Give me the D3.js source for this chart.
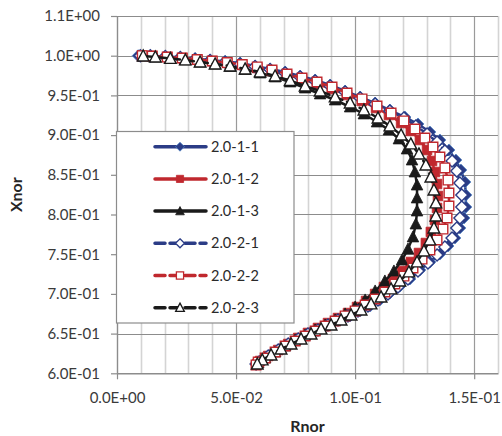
<!DOCTYPE html>
<html>
<head>
<meta charset="utf-8">
<script src="https://cdn.jsdelivr.net/npm/d3@7"></script>
<style>
html,body{margin:0;padding:0;background:#fff;}
svg{display:block;font-family:Lato,"Open Sans",sans-serif;}
</style>
</head>
<body>
<script>
// ---------------- DATA ----------------
const seriesNames = ["2.0-1-1","2.0-1-2","2.0-1-3","2.0-2-1","2.0-2-2","2.0-2-3"];

const xTickValues = [0, 0.05, 0.10, 0.15];
const xTickLabels = ["0.0E+00","5.0E-02","1.0E-01","1.5E-01"];
const yTickValues = [0.60,0.65,0.70,0.75,0.80,0.85,0.90,0.95,1.00,1.05];
const yTickLabels = ["6.0E-01","6.5E-01","7.0E-01","7.5E-01","8.0E-01","8.5E-01","9.0E-01","9.5E-01","1.0E+00","1.1E+00"];

// 2.0-1-1
const rnor_1_1 = [0.0089,0.0140,0.0203,0.0266,0.0328,0.0391,0.0454,0.0517,0.0580,0.0643,0.0706,0.0769,0.0832,0.0895,0.0958,0.1021,0.1084,0.1146,0.1209,0.1264,0.1314,0.1356,0.1394,0.1423,0.1444,0.1461,0.1465,0.1465,0.1457,0.1440,0.1419,0.1390,0.1356,0.1314,0.1272,0.1230,0.1188,0.1146,0.1104,0.1063,0.1021,0.0979,0.0937,0.0895,0.0853,0.0811,0.0769,0.0727,0.0685,0.0643,0.0601,0.0584];
const xnor_1_1 = [1.0000,1.0000,0.9990,0.9977,0.9958,0.9946,0.9927,0.9908,0.9870,0.9832,0.9795,0.9744,0.9694,0.9631,0.9555,0.9480,0.9404,0.9316,0.9228,0.9140,0.9039,0.8938,0.8812,0.8686,0.8560,0.8409,0.8246,0.8094,0.7956,0.7830,0.7704,0.7603,0.7502,0.7402,0.7301,0.7188,0.7099,0.7011,0.6923,0.6848,0.6785,0.6722,0.6671,0.6621,0.6558,0.6508,0.6432,0.6369,0.6306,0.6230,0.6155,0.6117];

// 2.0-1-2
const rnor_1_2 = [0.0106,0.0148,0.0211,0.0274,0.0337,0.0400,0.0463,0.0526,0.0589,0.0651,0.0714,0.0777,0.0840,0.0903,0.0966,0.1029,0.1088,0.1142,0.1193,0.1234,0.1272,0.1302,0.1323,0.1335,0.1344,0.1348,0.1344,0.1335,0.1318,0.1297,0.1268,0.1234,0.1197,0.1159,0.1121,0.1084,0.1046,0.1008,0.0970,0.0928,0.0886,0.0844,0.0802,0.0761,0.0719,0.0677,0.0635,0.0601,0.0589];
const xnor_1_2 = [1.0000,0.9996,0.9983,0.9971,0.9952,0.9933,0.9908,0.9883,0.9845,0.9807,0.9757,0.9706,0.9643,0.9580,0.9505,0.9429,0.9341,0.9253,0.9152,0.9052,0.8938,0.8812,0.8674,0.8535,0.8384,0.8233,0.8082,0.7931,0.7780,0.7641,0.7515,0.7402,0.7288,0.7188,0.7087,0.6999,0.6911,0.6835,0.6759,0.6696,0.6633,0.6571,0.6508,0.6445,0.6369,0.6293,0.6218,0.6155,0.6117];

// 2.0-1-3
const rnor_1_3 = [0.0110,0.0161,0.0224,0.0287,0.0349,0.0412,0.0475,0.0538,0.0601,0.0664,0.0727,0.0790,0.0853,0.0916,0.0979,0.1037,0.1092,0.1142,0.1184,0.1218,0.1239,0.1251,0.1260,0.1260,0.1260,0.1255,0.1243,0.1222,0.1197,0.1163,0.1125,0.1084,0.1042,0.1000,0.0958,0.0916,0.0874,0.0832,0.0790,0.0748,0.0706,0.0664,0.0622,0.0593];
const xnor_1_3 = [0.9996,0.9983,0.9971,0.9946,0.9920,0.9895,0.9864,0.9826,0.9782,0.9732,0.9669,0.9593,0.9518,0.9442,0.9354,0.9266,0.9165,0.9064,0.8951,0.8825,0.8686,0.8535,0.8371,0.8208,0.8044,0.7880,0.7717,0.7565,0.7427,0.7288,0.7162,0.7036,0.6923,0.6835,0.6747,0.6671,0.6608,0.6545,0.6482,0.6419,0.6344,0.6268,0.6193,0.6130];

// 2.0-2-1
const rnor_2_1 = [0.0098,0.0140,0.0203,0.0266,0.0328,0.0391,0.0454,0.0517,0.0580,0.0643,0.0706,0.0769,0.0832,0.0895,0.0958,0.1021,0.1084,0.1146,0.1205,0.1255,0.1302,0.1344,0.1377,0.1407,0.1427,0.1440,0.1448,0.1448,0.1440,0.1427,0.1407,0.1377,0.1344,0.1306,0.1264,0.1222,0.1180,0.1138,0.1096,0.1054,0.1012,0.0970,0.0928,0.0886,0.0844,0.0802,0.0761,0.0719,0.0677,0.0635,0.0597,0.0584];
const xnor_2_1 = [1.0000,1.0000,0.9990,0.9977,0.9958,0.9939,0.9920,0.9895,0.9864,0.9826,0.9782,0.9732,0.9681,0.9618,0.9543,0.9467,0.9392,0.9303,0.9215,0.9115,0.9014,0.8913,0.8800,0.8674,0.8548,0.8397,0.8246,0.8094,0.7956,0.7830,0.7704,0.7591,0.7490,0.7389,0.7288,0.7188,0.7087,0.6999,0.6923,0.6848,0.6785,0.6722,0.6671,0.6608,0.6545,0.6495,0.6432,0.6369,0.6293,0.6218,0.6142,0.6117];

// 2.0-2-2
const rnor_2_2 = [0.0106,0.0148,0.0211,0.0274,0.0337,0.0400,0.0463,0.0526,0.0589,0.0651,0.0714,0.0777,0.0840,0.0903,0.0966,0.1029,0.1092,0.1151,0.1205,0.1251,0.1293,0.1327,0.1356,0.1377,0.1390,0.1394,0.1394,0.1386,0.1369,0.1344,0.1314,0.1281,0.1243,0.1205,0.1167,0.1125,0.1084,0.1042,0.1000,0.0958,0.0916,0.0874,0.0832,0.0790,0.0748,0.0706,0.0664,0.0622,0.0593,0.0584];
const xnor_2_2 = [1.0000,0.9996,0.9983,0.9971,0.9952,0.9933,0.9914,0.9889,0.9858,0.9820,0.9769,0.9719,0.9669,0.9606,0.9530,0.9455,0.9366,0.9278,0.9178,0.9077,0.8963,0.8850,0.8724,0.8586,0.8434,0.8271,0.8107,0.7956,0.7817,0.7679,0.7553,0.7439,0.7326,0.7225,0.7125,0.7024,0.6936,0.6860,0.6785,0.6722,0.6659,0.6596,0.6533,0.6470,0.6407,0.6344,0.6268,0.6193,0.6142,0.6105];

// 2.0-2-3
const rnor_2_3 = [0.0110,0.0161,0.0224,0.0287,0.0349,0.0412,0.0475,0.0538,0.0601,0.0664,0.0727,0.0790,0.0853,0.0916,0.0979,0.1037,0.1096,0.1146,0.1193,0.1234,0.1268,0.1297,0.1318,0.1331,0.1339,0.1339,0.1331,0.1314,0.1289,0.1260,0.1226,0.1188,0.1151,0.1109,0.1067,0.1025,0.0983,0.0941,0.0899,0.0857,0.0815,0.0773,0.0731,0.0689,0.0647,0.0610,0.0589];
const xnor_2_3 = [0.9996,0.9983,0.9965,0.9946,0.9920,0.9895,0.9870,0.9832,0.9795,0.9744,0.9687,0.9618,0.9555,0.9480,0.9404,0.9316,0.9215,0.9115,0.9001,0.8888,0.8762,0.8623,0.8472,0.8308,0.8145,0.7981,0.7830,0.7679,0.7540,0.7402,0.7276,0.7162,0.7062,0.6961,0.6873,0.6797,0.6734,0.6671,0.6608,0.6558,0.6495,0.6432,0.6369,0.6306,0.6230,0.6168,0.6117];

// ---------------- STYLES ----------------
const NAVY = "#2B3C86", NAVY_EDGE = "#4F82C2", RED = "#C0282E", BLACK = "#1A1A1A";
const styles = [
  {name: seriesNames[0], r: rnor_1_1, x: xnor_1_1, color: NAVY, dash: null, marker: "diamond", open: false},
  {name: seriesNames[1], r: rnor_1_2, x: xnor_1_2, color: RED,  dash: null, marker: "square",  open: false},
  {name: seriesNames[2], r: rnor_1_3, x: xnor_1_3, color: BLACK,dash: null, marker: "triangle",open: false},
  {name: seriesNames[3], r: rnor_2_1, x: xnor_2_1, color: NAVY, dash: "9,5", marker: "diamond", open: true},
  {name: seriesNames[4], r: rnor_2_2, x: xnor_2_2, color: RED,  dash: "9,5", marker: "square",  open: true},
  {name: seriesNames[5], r: rnor_2_3, x: xnor_2_3, color: BLACK,dash: "9,5", marker: "triangle",open: true}
];

function markerPath(type, k){
  k = k || 1;
  if(type==="diamond"){ const s=6*k; return `M0,${-s}L${s},0L0,${s}L${-s},0Z`; }
  if(type==="square"){ const s=4.8*k; return `M${-s},${-s}H${s}V${s}H${-s}Z`; }
  const s=5.8*k; return `M0,${-s*1.05}L${s},${s*0.85}L${-s},${s*0.85}Z`;
}

// ---------------- CHART ----------------
const W = 502, H = 436;
const svg = d3.select("body").append("svg").attr("width", W).attr("height", H);

const x = d3.scaleLinear().domain([0, 0.16]).range([117, 498]);
const y = d3.scaleLinear().domain([0.6, 1.05]).range([373.3, 16]);

// minor vertical gridlines (every 0.01)
const minorX = x.ticks(16).filter(v => Math.abs(v*100 % 5) > 1e-6 && Math.abs(v*100 % 5 - 5) > 1e-6);
svg.append("g").selectAll("line").data(minorX).join("line")
  .attr("x1", d => Math.round(x(d))+0.5).attr("x2", d => Math.round(x(d))+0.5)
  .attr("y1", y(1.05)).attr("y2", y(0.6))
  .attr("stroke", "#d4d4d4").attr("stroke-width", 1.6);

// major vertical gridlines
svg.append("g").selectAll("line").data(xTickValues.slice(1)).join("line")
  .attr("x1", d => Math.round(x(d))+0.5).attr("x2", d => Math.round(x(d))+0.5)
  .attr("y1", y(1.05)).attr("y2", y(0.6))
  .attr("stroke", "#9a9a9a").attr("stroke-width", 1.2);

// horizontal major gridlines
svg.append("g").selectAll("line").data(yTickValues.slice(1)).join("line")
  .attr("x1", x(0)).attr("x2", x(0.16))
  .attr("y1", d => Math.round(y(d))+0.5).attr("y2", d => Math.round(y(d))+0.5)
  .attr("stroke", "#8c8c8c").attr("stroke-width", 1.2);

// axes
const yAxis = d3.axisLeft(y).tickValues(yTickValues)
  .tickFormat((d,i) => yTickLabels[i]).tickSize(6).tickPadding(11).tickSizeOuter(0);
const gy = svg.append("g").attr("transform", `translate(${x(0)},0)`).call(yAxis);
const xAxis = d3.axisBottom(x).tickValues(xTickValues)
  .tickFormat((d,i) => xTickLabels[i]).tickSize(6).tickPadding(13).tickSizeOuter(0);
const gx = svg.append("g").attr("transform", `translate(0,${y(0.6)})`).call(xAxis);
[gx, gy].forEach(g => {
  g.select(".domain").attr("stroke", "#8c8c8c").attr("stroke-width", 1.4);
  g.selectAll(".tick line").attr("stroke", "#8c8c8c").attr("stroke-width", 1.2);
  g.selectAll(".tick text").attr("fill", "#3a3a3a").style("font-size", "15px")
    .style("font-family", "Lato, 'Open Sans', sans-serif");
});

// series
styles.forEach(s => {
  const pts = d3.zip(s.r, s.x);
  const g = svg.append("g");
  g.append("path").datum(pts)
    .attr("d", d3.line().x(d => x(d[0])).y(d => y(d[1])))
    .attr("fill", "none").attr("stroke", s.color).attr("stroke-width", 2.5)
    .attr("stroke-dasharray", s.dash).attr("stroke-linecap", "round");
  g.selectAll("path.m").data(pts).join("path").attr("class", "m")
    .attr("d", markerPath(s.marker))
    .attr("transform", d => `translate(${x(d[0])},${y(d[1])})`)
    .attr("fill", s.open ? "#ffffff" : s.color)
    .attr("stroke", s.marker === "diamond" ? (s.open ? NAVY : NAVY_EDGE) : s.color)
    .attr("stroke-width", s.open ? 1.4 : 0.8);
});

// legend
const lg = svg.append("g");
lg.append("rect").attr("x", 116.5).attr("y", 131.5).attr("width", 177.5).attr("height", 191.5)
  .attr("fill", "#fff").attr("stroke", "#8c8c8c").attr("stroke-width", 1.2);
styles.forEach((s, i) => {
  const cy = 146.7 + i * 32.2;
  lg.append("line").attr("x1", 155).attr("x2", 206).attr("y1", cy).attr("y2", cy)
    .attr("stroke", s.color).attr("stroke-width", 3.5)
    .attr("stroke-dasharray", s.dash ? "10,5" : null).attr("stroke-linecap", "round");
  lg.append("path").attr("d", markerPath(s.marker, 0.75))
    .attr("transform", `translate(180,${cy})`)
    .attr("fill", s.open ? "#fff" : s.color)
    .attr("stroke", s.marker === "diamond" ? (s.open ? NAVY : NAVY_EDGE) : s.color)
    .attr("stroke-width", s.open ? 1.3 : 0.8);
  lg.append("text").attr("x", 211).attr("y", cy + 5)
    .attr("fill", "#2a2a2a").style("font-size", "14.5px").text(s.name);
});

// axis titles
svg.append("text").attr("x", (x(0)+x(0.16))/2).attr("y", 432)
  .attr("text-anchor", "middle").attr("font-weight", "bold").attr("fill", "#262626")
  .style("font-size", "16px").text("Rnor");
svg.append("text").attr("transform", `translate(22,${(y(0.6)+y(1.05))/2}) rotate(-90)`)
  .attr("text-anchor", "middle").attr("font-weight", "bold").attr("fill", "#262626")
  .style("font-size", "16px").text("Xnor");
</script>
</body>
</html>
